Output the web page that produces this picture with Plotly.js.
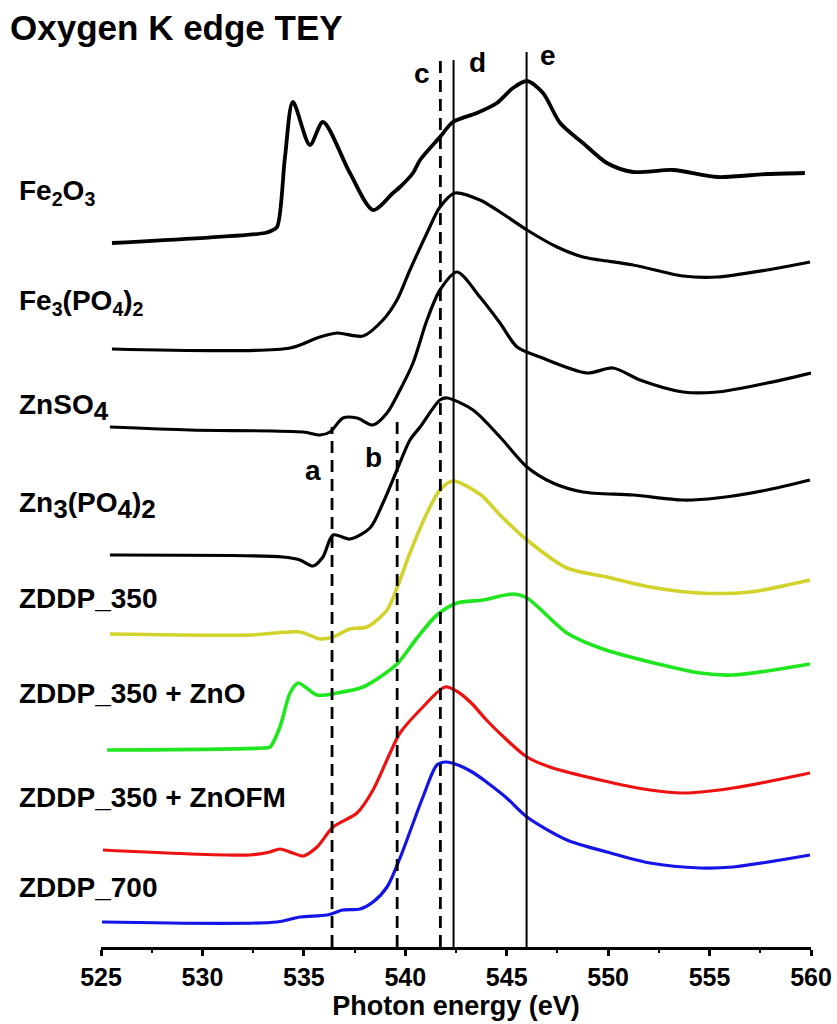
<!DOCTYPE html>
<html>
<head>
<meta charset="utf-8">
<script src="https://cdn.plot.ly/plotly-3.0.1.min.js"></script>
<style>html,body{margin:0;padding:0;background:#fff;}#chart{width:837px;height:1024px;}</style>
</head>
<body>
<div id="chart"></div>
<script>
// Photon energy (eV) and offset TEY intensities (arb. units)
var fe2o3_x = [525.54,533.08,533.38,533.68,534.07,534.46,535.30,535.94,537.27,538.41,539.39,539.74,540.38,540.73,541.71,542.35,543.53,544.52,545.31,546.00,546.79,547.63,548.76,549.94,551.23,553.20,555.37,557.83,559.70];
var fe2o3_y = [7.04,7.14,7.16,7.20,7.90,8.45,8.02,8.25,7.74,7.37,7.54,7.60,7.74,7.87,8.10,8.25,8.34,8.44,8.59,8.66,8.54,8.24,8.04,7.84,7.75,7.77,7.70,7.73,7.74];

var fe3po4_x = [525.54,534.32,535.65,536.63,537.92,538.90,539.59,540.23,541.07,541.71,542.45,543.68,544.67,546.00,547.48,548.76,549.60,551.23,553.69,555.37,557.83,559.95];
var fe3po4_y = [5.98,5.99,6.09,6.14,6.11,6.27,6.47,6.77,7.14,7.40,7.54,7.47,7.35,7.17,7.00,6.90,6.87,6.82,6.71,6.70,6.77,6.85];

var znso4_x = [525.44,529.39,534.96,535.80,536.29,536.93,537.62,538.41,539.10,539.74,540.38,541.07,541.71,542.55,543.68,544.67,545.51,546.64,548.96,550.24,551.57,553.69,555.37,557.83,560.00];
var znso4_y = [5.20,5.17,5.15,5.12,5.15,5.29,5.29,5.22,5.34,5.57,5.84,6.27,6.57,6.75,6.50,6.24,6.00,5.90,5.74,5.79,5.67,5.55,5.55,5.64,5.74];

var zn3po4_x = [525.44,533.97,534.81,535.45,535.94,536.44,537.27,538.26,538.90,539.59,540.23,540.73,541.71,542.06,543.34,544.67,546.00,547.28,548.76,551.23,553.69,555.37,557.83,559.95];
var zn3po4_y = [3.92,3.90,3.87,3.81,3.90,4.12,4.08,4.19,4.44,4.77,5.07,5.20,5.47,5.49,5.37,5.10,4.80,4.64,4.55,4.52,4.47,4.49,4.57,4.67];

var zddp350_x = [525.44,532.34,534.81,535.80,536.44,537.27,538.11,539.10,539.59,540.23,541.07,541.71,542.35,543.73,544.67,546.00,547.97,549.94,552.06,554.53,556.99,559.95];
var zddp350_y = [3.13,3.12,3.15,3.08,3.10,3.18,3.20,3.37,3.59,3.94,4.34,4.57,4.66,4.52,4.32,4.07,3.79,3.70,3.60,3.54,3.55,3.67];

var zno_x = [525.30,532.99,533.33,533.82,534.32,534.71,535.65,536.63,537.92,538.90,539.64,540.58,541.56,542.55,543.83,545.31,546.00,547.97,549.60,552.06,554.53,556.16,559.95];
var zno_y = [1.97,1.99,2.00,2.20,2.54,2.64,2.52,2.54,2.60,2.72,2.84,3.09,3.32,3.44,3.47,3.53,3.49,3.14,2.99,2.85,2.74,2.72,2.83];

var znofm_x = [525.10,532.34,533.33,533.82,534.46,534.96,535.65,536.44,537.62,538.41,539.25,539.74,540.87,541.96,542.60,543.30,544.00,545.01,546.00,547.13,549.60,552.06,553.69,556.16,559.95];
var znofm_y = [0.97,0.92,0.95,0.98,0.94,0.91,1.00,1.20,1.34,1.57,1.94,2.14,2.40,2.60,2.55,2.43,2.27,2.07,1.90,1.80,1.67,1.57,1.54,1.59,1.74];

var zddp700_x = [525.05,533.68,534.81,536.14,536.93,537.77,538.41,539.10,539.74,540.87,541.56,542.00,542.60,543.30,544.00,545.00,546.00,547.97,549.94,552.06,554.53,556.16,559.95];
var zddp700_y = [0.25,0.25,0.30,0.32,0.37,0.38,0.45,0.60,0.89,1.50,1.82,1.85,1.82,1.75,1.65,1.49,1.30,1.07,0.95,0.84,0.79,0.80,0.92];

var bigSub = function(s){ return '<sub><span style="font-size:26px">' + s + '</span></sub>'; };
var seriesNames = ['Fe<sub>2</sub>O<sub>3</sub>','Fe<sub>3</sub>(PO<sub>4</sub>)<sub>2</sub>','ZnSO' + bigSub('4'),'Zn' + bigSub('3') + '(PO' + bigSub('4') + ')' + bigSub('2'),'ZDDP_350','ZDDP_350 + ZnO','ZDDP_350 + ZnOFM','ZDDP_700'];
var labelY = [7.55,6.45,5.40,4.42,3.49,2.54,1.50,0.60];

// reference energies a–e
var refNames = ['a','b','c','d','e'];
var refEnergy = [536.39,539.60,541.73,542.38,545.98];
var refTop = [5.20,5.29,8.89,8.87,8.95];
var refLabelX = [535.45,538.41,540.82,543.58,547.03];
var refLabelY = [4.77,4.90,8.74,8.85,8.92];

var xs = [fe2o3_x,fe3po4_x,znso4_x,zn3po4_x,zddp350_x,zno_x,znofm_x,zddp700_x];
var ys = [fe2o3_y,fe3po4_y,znso4_y,zn3po4_y,zddp350_y,zno_y,znofm_y,zddp700_y];
var colors = ['#000000','#000000','#000000','#000000','#d2d22c','#1fe61f','#ee1111','#1414e6'];
var widths = [3.8,3.2,3.2,3.2,3.6,3.6,3.2,3.2];

var FONT = '"Liberation Sans", Arial, sans-serif';
var traces = xs.map(function(x,i){
  return {x:x, y:ys[i], mode:'lines', type:'scatter', name:seriesNames[i],
          line:{color:colors[i], width:widths[i], shape:'spline', smoothing:0.8},
          hoverinfo:'skip', showlegend:false};
});

var shapes = refEnergy.map(function(e,i){
  return {type:'line', xref:'x', yref:'y', x0:e, x1:e, y0:0, y1:refTop[i],
          line:{color:'#000', width:(i<3?2.8:2), dash:(i<3?'12px,7px':'solid')}};
});

var annotations = [];
seriesNames.forEach(function(n,i){
  annotations.push({text:n, xref:'paper', yref:'y', x:-0.118, y:labelY[i], xanchor:'left', yanchor:'middle',
    showarrow:false, font:{family:FONT, size:28, color:'#000', weight:'bold'}});
});
refNames.forEach(function(n,i){
  annotations.push({text:n, xref:'x', yref:'y', x:refLabelX[i], y:refLabelY[i], xanchor:'center', yanchor:'middle',
    showarrow:false, font:{family:FONT, size:28, color:'#000', weight:'bold'}});
});

var layout = {
  width:837, height:1024,
  margin:{l:101, r:26, t:0, b:77},
  paper_bgcolor:'#fff', plot_bgcolor:'#fff',
  title:{text:'Oxygen K edge TEY', xref:'container', yref:'container', x:0.012, xanchor:'left', y:0.973, yanchor:'middle',
         font:{family:FONT, size:35, color:'#000', weight:'bold'}},
  xaxis:{range:[525,560], dtick:5, tick0:525, showgrid:false, zeroline:false,
         showline:true, linecolor:'#000', linewidth:3,
         ticks:'outside', ticklen:6, tickwidth:3, tickcolor:'#000',
         minor:{dtick:2.5, ticks:'outside', ticklen:3, tickwidth:2, tickcolor:'#000'},
         tickfont:{family:FONT, size:25, color:'#000', weight:'bold'},
         title:{text:'Photon energy (eV)', standoff:6, font:{family:FONT, size:27, color:'#000', weight:'bold'}}},
  yaxis:{range:[0,9.47], visible:false, showgrid:false, zeroline:false, fixedrange:true},
  shapes:shapes,
  annotations:annotations
};

Plotly.newPlot('chart', traces, layout, {displayModeBar:false, staticPlot:true});
</script>
</body>
</html>
